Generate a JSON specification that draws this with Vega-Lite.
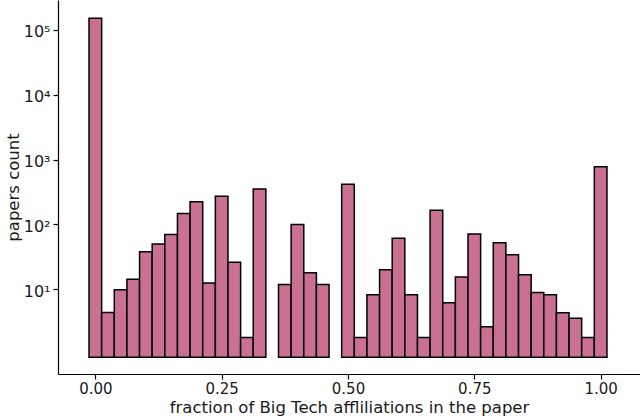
{
  "$schema": "https://vega.github.io/schema/vega-lite/v6.json",
  "autosize": "none",
  "width": 582,
  "height": 374,
  "padding": {"left": 58, "top": 0, "right": 0, "bottom": 46},
  "background": "white",
  "data": {"values": [
    {"lo": -0.0125, "hi": 0.0125, "count": 151000},
    {"lo": 0.0125, "hi": 0.0375, "count": 4.4},
    {"lo": 0.0375, "hi": 0.0625, "count": 9.8},
    {"lo": 0.0625, "hi": 0.0875, "count": 14.3},
    {"lo": 0.0875, "hi": 0.1125, "count": 38},
    {"lo": 0.1125, "hi": 0.1375, "count": 50},
    {"lo": 0.1375, "hi": 0.1625, "count": 70},
    {"lo": 0.1625, "hi": 0.1875, "count": 147},
    {"lo": 0.1875, "hi": 0.2125, "count": 224},
    {"lo": 0.2125, "hi": 0.2375, "count": 12.5},
    {"lo": 0.2375, "hi": 0.2625, "count": 272},
    {"lo": 0.2625, "hi": 0.2875, "count": 26},
    {"lo": 0.2875, "hi": 0.3125, "count": 1.8},
    {"lo": 0.3125, "hi": 0.3375, "count": 352},
    {"lo": 0.3625, "hi": 0.3875, "count": 11.8},
    {"lo": 0.3875, "hi": 0.4125, "count": 100},
    {"lo": 0.4125, "hi": 0.4375, "count": 18},
    {"lo": 0.4375, "hi": 0.4625, "count": 11.8},
    {"lo": 0.4875, "hi": 0.5125, "count": 416},
    {"lo": 0.5125, "hi": 0.5375, "count": 1.8},
    {"lo": 0.5375, "hi": 0.5625, "count": 8.2},
    {"lo": 0.5625, "hi": 0.5875, "count": 20},
    {"lo": 0.5875, "hi": 0.6125, "count": 61},
    {"lo": 0.6125, "hi": 0.6375, "count": 8.2},
    {"lo": 0.6375, "hi": 0.6625, "count": 1.8},
    {"lo": 0.6625, "hi": 0.6875, "count": 165},
    {"lo": 0.6875, "hi": 0.7125, "count": 6.2},
    {"lo": 0.7125, "hi": 0.7375, "count": 15.5},
    {"lo": 0.7375, "hi": 0.7625, "count": 71},
    {"lo": 0.7625, "hi": 0.7875, "count": 2.65},
    {"lo": 0.7875, "hi": 0.8125, "count": 52},
    {"lo": 0.8125, "hi": 0.8375, "count": 34},
    {"lo": 0.8375, "hi": 0.8625, "count": 16.8},
    {"lo": 0.8625, "hi": 0.8875, "count": 8.9},
    {"lo": 0.8875, "hi": 0.9125, "count": 8.2},
    {"lo": 0.9125, "hi": 0.9375, "count": 4.35},
    {"lo": 0.9375, "hi": 0.9625, "count": 3.57},
    {"lo": 0.9625, "hi": 0.9875, "count": 1.8},
    {"lo": 0.9875, "hi": 1.0125, "count": 778}
  ]},
  "mark": {"type": "bar", "fill": "#c97093", "stroke": "#000000", "strokeWidth": 1.5, "orient": "vertical"},
  "encoding": {
    "x": {
      "field": "lo", "type": "quantitative",
      "scale": {"domain": [-0.064, 1.068], "nice": false, "zero": false},
      "axis": {"values": [0, 0.25, 0.5, 0.75, 1], "format": ".2f", "title": "fraction of Big Tech affliliations in the paper", "titlePadding": 3, "labelFontSize": 15, "labelPadding": 2}
    },
    "x2": {"field": "hi"},
    "y": {
      "field": "count", "type": "quantitative",
      "scale": {"type": "log", "domain": [0.493, 290000], "nice": false, "zero": false},
      "axis": {
        "values": [10, 100, 1000, 10000, 100000],
        "labelExpr": "datum.value == 10 ? '10¹' : datum.value == 100 ? '10²' : datum.value == 1000 ? '10³' : datum.value == 10000 ? '10⁴' : '10⁵'",
        "title": "papers count",
        "titlePadding": 2,
        "labelOffset": 2
      }
    },
    "y2": {"datum": 0.89}
  },
  "config": {
    "view": {"stroke": null},
    "font": "DejaVu Sans",
    "axis": {
      "grid": false,
      "domainColor": "#000000",
      "domainWidth": 1.2,
      "tickColor": "#000000",
      "tickWidth": 1.2,
      "tickSize": 5,
      "labelFont": "DejaVu Sans",
      "labelFontSize": 16,
      "labelColor": "#1a1a1a",
      "labelPadding": 3,
      "titleFont": "DejaVu Sans",
      "titleFontSize": 16.5,
      "titleFontWeight": "normal",
      "titleColor": "#1a1a1a"
    }
  }
}
